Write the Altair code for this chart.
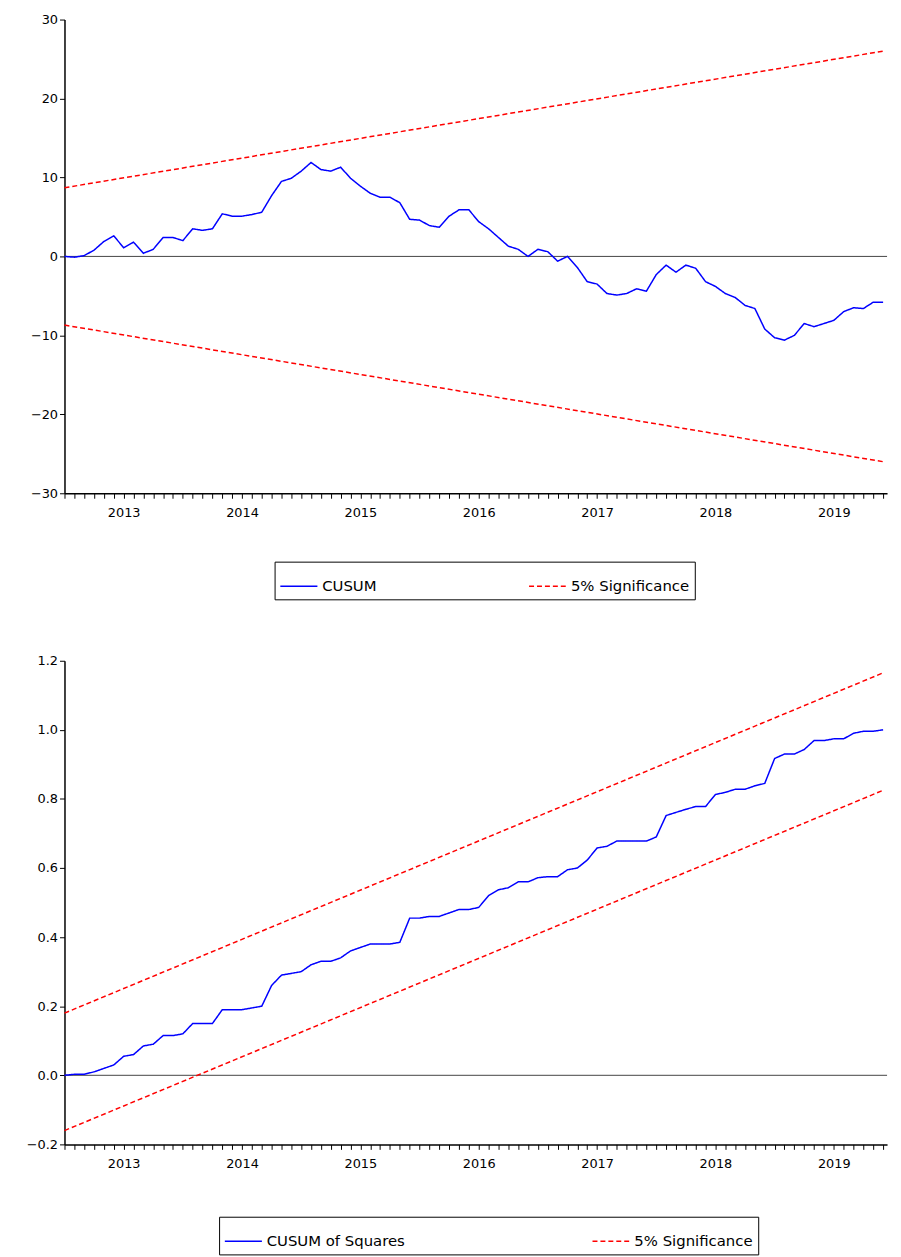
import altair as alt
import pandas as pd

years = [2013, 2014, 2015, 2016, 2017, 2018, 2019]

cusum = [0, -0.1, 0.1, 0.8, 1.9, 2.6, 1.1, 1.8, 0.4, 0.9, 2.4, 2.4, 2.0, 3.5, 3.3,
         3.5, 5.4, 5.1, 5.1, 5.3, 5.6, 7.7, 9.5, 9.9, 10.8, 11.9, 11.0, 10.8, 11.3,
         9.9, 8.9, 8.0, 7.5, 7.5, 6.8, 4.7, 4.6, 3.9, 3.7, 5.1, 5.9, 5.9,
         4.4, 3.5, 2.4, 1.3, 0.9, 0, 0.9, 0.6, -0.6, 0, -1.4, -3.2, -3.5, -4.7,
         -4.9, -4.7, -4.1, -4.4, -2.3, -1.1, -2.0, -1.1, -1.5, -3.2, -3.8, -4.7,
         -5.2, -6.2, -6.6, -9.2, -10.3, -10.6, -10.0, -8.5, -8.9, -8.5, -8.1,
         -7.0, -6.5, -6.6, -5.8, -5.8]
cusum_upper = [8.7, 26.0]
cusum_lower = [-8.7, -26.0]

cusumsq = [0, 0.003, 0.003, 0.01, 0.02, 0.03, 0.055, 0.06, 0.085, 0.09, 0.115, 0.115,
           0.12, 0.15, 0.15, 0.15, 0.19, 0.19, 0.19, 0.195, 0.2, 0.26, 0.29, 0.295,
           0.30, 0.32, 0.33, 0.33, 0.34, 0.36, 0.37, 0.38, 0.38, 0.38, 0.385, 0.455,
           0.455, 0.46, 0.46, 0.47, 0.48, 0.48,
           0.486, 0.52, 0.537, 0.543, 0.56, 0.56, 0.572, 0.575, 0.575, 0.595, 0.60,
           0.623, 0.658, 0.663, 0.678, 0.678, 0.678, 0.678, 0.69, 0.752, 0.761, 0.77,
           0.778, 0.778, 0.813, 0.819, 0.828, 0.828, 0.838, 0.845, 0.917, 0.93, 0.93,
           0.943, 0.969, 0.969, 0.974, 0.974, 0.99, 0.996, 0.996, 1.0]
sq_upper = [0.18, 1.165]
sq_lower = [-0.16, 0.825]

FONT = "DejaVu Sans"
first_year = years[0]


def panel(values, upper, lower, name, ydom, ystep, height, legend_x, legend_y, gap):
    n = len(values)
    rows = [{"t": i, "v": v, "s": name, "g": "main"} for i, v in enumerate(values)]
    for g, b in (("up", upper), ("lo", lower)):
        rows += [{"t": 0, "v": b[0], "s": "5% Significance", "g": g},
                 {"t": n - 1, "v": b[1], "s": "5% Significance", "g": g}]
    df = pd.DataFrame(rows)
    nticks = int(round((ydom[1] - ydom[0]) / ystep))
    yvals = [round(ydom[0] + k * ystep, 2) for k in range(nticks + 1)]
    lab = f"datum.value % 12 == 6 ? '' + ({first_year} + floor(datum.value / 12)) : ''"
    fmt = ".0f" if ystep >= 1 else ".1f"
    legend = alt.Legend(orient="none", legendX=legend_x, legendY=legend_y,
                        direction="horizontal", title=None, columnPadding=gap)
    lines = alt.Chart(df).mark_line(strokeWidth=1.5).encode(
        x=alt.X("t:Q", title=None, scale=alt.Scale(domain=[0, n - 0.6], nice=False),
                axis=alt.Axis(values=list(range(0, n + 1)), labelExpr=lab, grid=False,
                              tickSize=5, labelPadding=8, labelFlush=False)),
        y=alt.Y("v:Q", title=None, scale=alt.Scale(domain=ydom, nice=False),
                axis=alt.Axis(values=yvals, format=fmt, grid=False, tickSize=5)),
        detail="g:N",
        color=alt.Color("s:N", legend=legend,
                        scale=alt.Scale(domain=[name, "5% Significance"],
                                        range=["#0000ff", "#ff0000"])),
        strokeDash=alt.StrokeDash("s:N", legend=legend,
                                  scale=alt.Scale(domain=[name, "5% Significance"],
                                                  range=[[1, 0], [5, 3]])),
    )
    zero = alt.Chart(pd.DataFrame({"z": [0]})).mark_rule(color="#444444", strokeWidth=1).encode(
        y="z:Q")
    return alt.layer(zero, lines).properties(width=830, height=height)


top = panel(cusum, cusum_upper, cusum_lower, "CUSUM", [-30, 30], 10, 478, 212, 547, 150)
bottom = panel(cusumsq, sq_upper, sq_lower, "CUSUM of Squares", [-0.2, 1.2], 0.2, 488,
               156, 561, 185)

chart = alt.vconcat(top, bottom, spacing=55).resolve_scale(
    color="independent", strokeDash="independent"
).properties(
    padding={"left": 18, "top": 0, "right": 5, "bottom": 0}
).configure_view(stroke=None).configure_axis(
    labelFont=FONT, labelFontSize=13, labelColor="black", domainColor="black",
    tickColor="black", domainWidth=1.5
).configure_legend(
    strokeColor="black", padding=5, labelFont=FONT, labelFontSize=15,
    symbolType="stroke", symbolSize=1400, symbolStrokeWidth=1.5
)

chart.save("out.html", embed_options={"renderer": "svg", "actions": False})
